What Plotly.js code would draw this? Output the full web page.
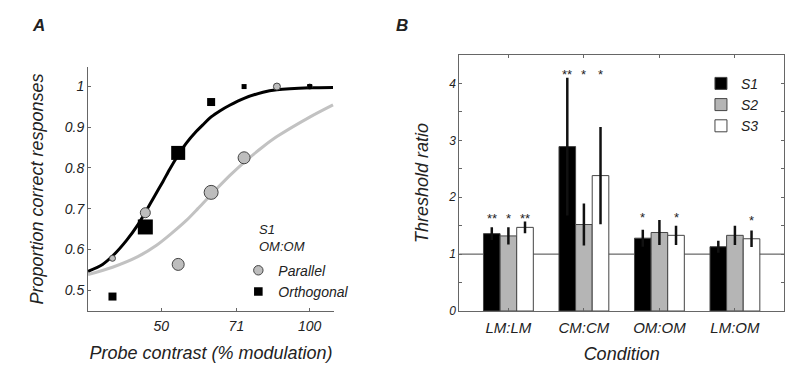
<!DOCTYPE html>
<html>
<head>
<meta charset="utf-8">
<script src="https://cdn.plot.ly/plotly-3.0.1.min.js"></script>
<style>html,body{margin:0;padding:0;background:#fff;}#chart{width:800px;height:377px;}</style>
</head>
<body>
<div id="chart"></div>
<script>
// ---------- Panel A data ----------
const contrastLevels = [39.8, 46.4, 54.1, 63.1, 73.6, 85.8, 100];
const parallelPC   = [0.578, 0.690, 0.563, 0.740, 0.825, 1.0, 1.0];
const orthogonalPC = [0.484, 0.655, 0.837, 0.962, 1.0, null, 1.0];
const parallelMarkerSize   = [6, 10, 12, 14, 12, 7, 5];
const orthogonalMarkerSize = [8, 15, 14, 8, 5, 5, 5];

const orthoFitX = [35.5, 38.0, 40.0, 42.5, 44.8, 46.6, 48.4, 50.4, 52.0, 54.0, 56.2, 58.9, 60.7, 63.2, 65.7, 68.8, 73.6, 80.4, 85.8, 100, 111.5];
const orthoFitY = [0.546, 0.563, 0.586, 0.622, 0.660, 0.695, 0.730, 0.767, 0.797, 0.830, 0.861, 0.890, 0.906, 0.926, 0.940, 0.954, 0.971, 0.986, 0.992, 0.997, 0.998];
const paraFitX = [35.5, 39.8, 44.8, 48.9, 52.3, 56.2, 59.3, 62.7, 68.8, 73.6, 80.4, 85.8, 100, 111.5];
const paraFitY = [0.538, 0.556, 0.582, 0.610, 0.638, 0.671, 0.700, 0.731, 0.781, 0.814, 0.852, 0.877, 0.925, 0.955];

const xTickVals = [50, 71, 100];
const yTickValsA = [0.5, 0.6, 0.7, 0.8, 0.9, 1];

// ---------- Panel B data ----------
const conditions = ['LM:LM', 'CM:CM', 'OM:OM', 'LM:OM'];
const subjects = ['S1', 'S2', 'S3'];
const s1Ratio = [1.36, 2.89, 1.28, 1.13];
const s1Err   = [0.11, 1.21, 0.15, 0.105];
const s2Ratio = [1.32, 1.52, 1.38, 1.33];
const s2Err   = [0.15, 0.37, 0.22, 0.17];
const s3Ratio = [1.47, 2.38, 1.33, 1.27];
const s3Err   = [0.105, 0.855, 0.17, 0.145];
const s1Sig = ['**', '**', '*', ''];
const s2Sig = ['*', '*', '', ''];
const s3Sig = ['**', '*', '*', '*'];

// ---------- styling ----------
const FONT = 'Liberation Sans, Arial, sans-serif';
const TXT = '#222';
const AXC = '#666';
const BARGAP = 0.34;

const traces = [
  {x: paraFitX, y: paraFitY, type: 'scatter', mode: 'lines', line: {color: '#c2c2c2', width: 3, shape: 'spline', smoothing: 0.8},
   xaxis: 'x', yaxis: 'y', showlegend: false, hoverinfo: 'skip'},
  {x: orthoFitX, y: orthoFitY, type: 'scatter', mode: 'lines', line: {color: '#000', width: 3, shape: 'spline', smoothing: 0.8},
   xaxis: 'x', yaxis: 'y', showlegend: false, hoverinfo: 'skip'},
  {x: contrastLevels, y: parallelPC, type: 'scatter', mode: 'markers', name: 'Parallel',
   marker: {symbol: 'circle', size: parallelMarkerSize, color: '#bdbdbd', opacity: 1, line: {color: '#444', width: 1}},
   xaxis: 'x', yaxis: 'y', legend: 'legend2'},
  {x: contrastLevels, y: orthogonalPC, type: 'scatter', mode: 'markers', name: 'Orthogonal',
   marker: {symbol: 'square', size: orthogonalMarkerSize, color: '#000', opacity: 1, line: {color: '#000', width: 0}},
   xaxis: 'x', yaxis: 'y', legend: 'legend2'}
];

const ratios = [s1Ratio, s2Ratio, s3Ratio];
const errs = [s1Err, s2Err, s3Err];
const sigs = [s1Sig, s2Sig, s3Sig];
const barColors = ['#000000', '#b5b5b5', '#ffffff'];
subjects.forEach((s, k) => {
  traces.push({
    x: conditions, y: ratios[k], type: 'bar', name: s,
    marker: {color: barColors[k], line: {color: '#444', width: 1}},
    error_y: {type: 'data', array: errs[k], visible: true, color: '#111', thickness: 2.5, width: 0},
    xaxis: 'x2', yaxis: 'y2', legend: 'legend'
  });
});

// significance asterisks placed above each bar group
const annotations = [];
const barW = (1 - BARGAP) / subjects.length;
conditions.forEach((c, i) => {
  let top = 0;
  subjects.forEach((s, k) => { top = Math.max(top, ratios[k][i] + errs[k][i]); });
  const level = Math.max(1.67, top + 0.12);
  subjects.forEach((s, k) => {
    if (sigs[k][i]) {
      annotations.push({xref: 'x2', yref: 'y2', x: i + (k - 1) * barW, y: level, text: sigs[k][i],
        xanchor: 'center', yanchor: 'middle',
        showarrow: false, yshift: -4, font: {family: FONT, size: 13, color: TXT}});
    }
  });
});
annotations.push({xref: 'paper', yref: 'paper', x: -0.0718, y: 1.115, xanchor: 'center', yanchor: 'middle',
  text: 'A', showarrow: false, font: {family: FONT, size: 17, color: TXT, weight: 'bold', style: 'italic'}});
annotations.push({xref: 'paper', yref: 'paper', x: 0.451, y: 1.115, xanchor: 'center', yanchor: 'middle',
  text: 'B', showarrow: false, font: {family: FONT, size: 17, color: TXT, weight: 'bold', style: 'italic'}});
annotations.push({xref: 'paper', yref: 'paper', x: 0.2435, xanchor: 'left', y: 0.285, yanchor: 'middle', align: 'left',
  text: 'S1<br>OM:OM', showarrow: false, font: {family: FONT, size: 13, color: TXT, style: 'italic'}});

const tickFontA = {family: FONT, size: 14, color: TXT, style: 'italic'};
const titleFont = {family: FONT, size: 18, color: TXT, style: 'italic'};

const layout = {
  width: 800, height: 377, autosize: false,
  margin: {l: 88, r: 16, t: 55, b: 66},
  paper_bgcolor: '#fff', plot_bgcolor: '#fff',
  font: {family: FONT, color: TXT},
  barmode: 'group', bargap: BARGAP, bargroupgap: 0,
  showlegend: true,
  xaxis: {domain: [0, 0.3534], anchor: 'y', type: 'log', range: [Math.log10(35.5), Math.log10(112)],
    tickvals: xTickVals, ticktext: xTickVals.map(String), ticks: 'inside', ticklen: 3, tickcolor: AXC,
    showline: true, linecolor: AXC, linewidth: 1, showgrid: false, zeroline: false, tickfont: tickFontA,
    ticklabelstandoff: 2,
    title: {text: 'Probe contrast (% modulation)', font: titleFont, standoff: 13}},
  yaxis: {domain: [0, 0.953], anchor: 'x', range: [0.4485, 1.048], tickvals: yTickValsA,
    ticktext: yTickValsA.map(String), ticks: 'inside', ticklen: 3, tickcolor: AXC,
    showline: true, linecolor: AXC, linewidth: 1, showgrid: false, zeroline: false, tickfont: tickFontA,
    title: {text: 'Proportion correct responses', font: titleFont, standoff: 16}},
  xaxis2: {domain: [0.5335, 1], anchor: 'y2', type: 'category', range: [-0.65, 3.65],
    ticks: 'inside', ticklen: 3, tickcolor: AXC, showline: true, mirror: 'ticks', linecolor: AXC, linewidth: 1,
    showgrid: false, zeroline: false, tickfont: {family: FONT, size: 15, color: TXT, style: 'italic'},
    ticklabelstandoff: 3,
    title: {text: 'Condition', font: titleFont, standoff: 12}},
  yaxis2: {domain: [0, 1], anchor: 'x2', range: [0, 4.5], dtick: 1, tick0: 0,
    ticks: 'inside', ticklen: 3, tickcolor: AXC, showline: true, mirror: 'ticks', linecolor: AXC, linewidth: 1,
    minor: {dtick: 0.5, ticks: 'inside', ticklen: 3, tickcolor: AXC, showgrid: false},
    showgrid: false, zeroline: false, tickfont: {family: FONT, size: 12, color: TXT, style: 'italic'},
    title: {text: 'Threshold ratio', font: titleFont, standoff: 14}},
  legend: {x: 0.8807, y: 0.95, xanchor: 'left', yanchor: 'top', bgcolor: 'rgba(0,0,0,0)',
    font: {family: FONT, size: 14, color: TXT, style: 'italic'}, tracegroupgap: 0},
  legend2: {x: 0.216, y: 0.22, xanchor: 'left', yanchor: 'top', bgcolor: 'rgba(0,0,0,0)',
    font: {family: FONT, size: 14, color: TXT, style: 'italic'}, tracegroupgap: 0},
  shapes: [{type: 'line', xref: 'x2 domain', x0: 0, x1: 1, yref: 'y2', y0: 1, y1: 1, layer: 'below',
    line: {color: '#444', width: 1}}],
  annotations: annotations
};

Plotly.newPlot('chart', traces, layout, {displayModeBar: false, staticPlot: true});
</script>
</body>
</html>
